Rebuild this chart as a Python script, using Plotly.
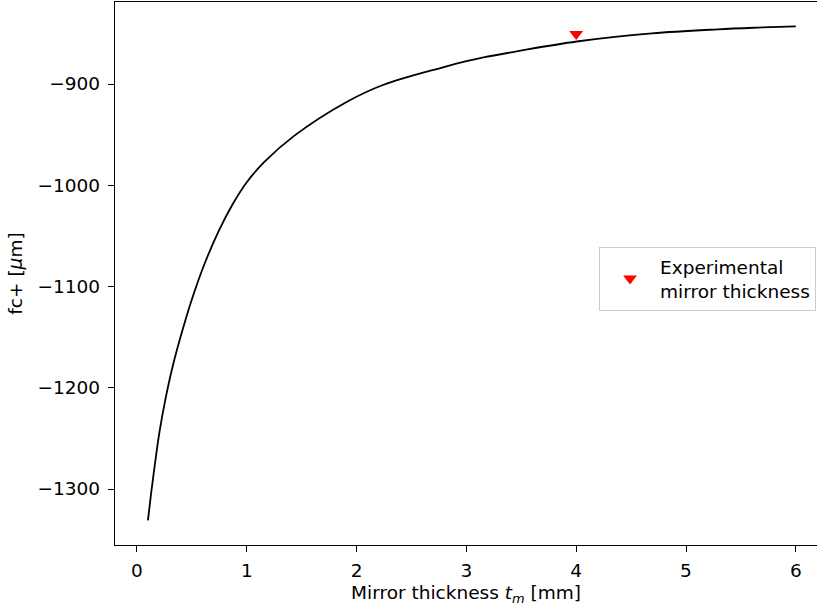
import plotly.graph_objects as go

# Curve data
thickness_mm = [0.10, 0.128, 0.164, 0.203, 0.258, 0.325, 0.407, 0.499, 0.614,
                0.745, 0.87, 1.0, 1.16, 1.434, 1.905, 2.24,
                2.787, 3.0, 3.166, 3.47, 4.005, 4.69, 5.29, 5.65, 6.0]
fc_plus_um = [-1331, -1305, -1275, -1245, -1212, -1179, -1146, -1113, -1078,
              -1045, -1019, -997, -977, -951, -918, -901,
              -883.5, -877.5, -873.5, -867.5, -858, -850, -846, -844.3, -843]

# Experimental point
exp_thickness = [4.0]
exp_fc = [-850.6]

x_ticks = [0, 1, 2, 3, 4, 5, 6]
y_ticks = [-1300, -1200, -1100, -1000, -900]
y_tick_labels = ["\u22121300", "\u22121200", "\u22121100", "\u22121000", "\u2212900"]

FONT = "DejaVu Sans"
FS = 18.5

fig = go.Figure()
fig.add_trace(go.Scatter(
    x=thickness_mm, y=fc_plus_um, mode="lines",
    line=dict(color="black", width=1.8, shape="spline", smoothing=1.0),
    showlegend=False,
))
fig.add_trace(go.Scatter(
    x=exp_thickness, y=exp_fc, mode="markers",
    marker=dict(symbol="triangle-down", color="red", size=12),
    name="Experimental<br>mirror thickness",
))

fig.update_layout(
    width=817, height=606,
    margin=dict(l=115, r=0, t=2, b=61, autoexpand=False),
    paper_bgcolor="white", plot_bgcolor="white",
    font=dict(family=FONT, size=FS, color="black"),
    legend=dict(
        x=0.6895, y=0.5488, xanchor="left", yanchor="top",
        bgcolor="white", bordercolor="#cccccc", borderwidth=1,
        itemwidth=50, tracegroupgap=0,
        font=dict(family=FONT, size=FS),
    ),
)
fig.update_xaxes(
    range=[-0.2, 6.193], tickvals=x_ticks,
    showgrid=False, zeroline=False, automargin=False,
    showline=True, linecolor="black", linewidth=1.3, mirror=True,
    ticks="outside", ticklen=6, tickwidth=1.2, tickcolor="black",
    ticklabelstandoff=3,
    title=dict(text="Mirror thickness <i>t</i><sub><i>m</i></sub> [mm]", standoff=8,
               font=dict(family=FONT, size=FS)),
)
fig.update_yaxes(
    range=[-1355.3, -819], tickvals=y_ticks, ticktext=y_tick_labels,
    showgrid=False, zeroline=False, automargin=False,
    showline=True, linecolor="black", linewidth=1.3, mirror=True,
    ticks="outside", ticklen=6, tickwidth=1.2, tickcolor="black",
    ticklabelstandoff=4,
    title=dict(text="fc+ [<i>\u03bc</i>m]", standoff=10,
               font=dict(family=FONT, size=FS)),
)

# Remove the page's default body margin so the figure sits at the window origin
fig.write_html("out.html", config={"displayModeBar": False},
               post_script="document.body.style.margin='0';")
